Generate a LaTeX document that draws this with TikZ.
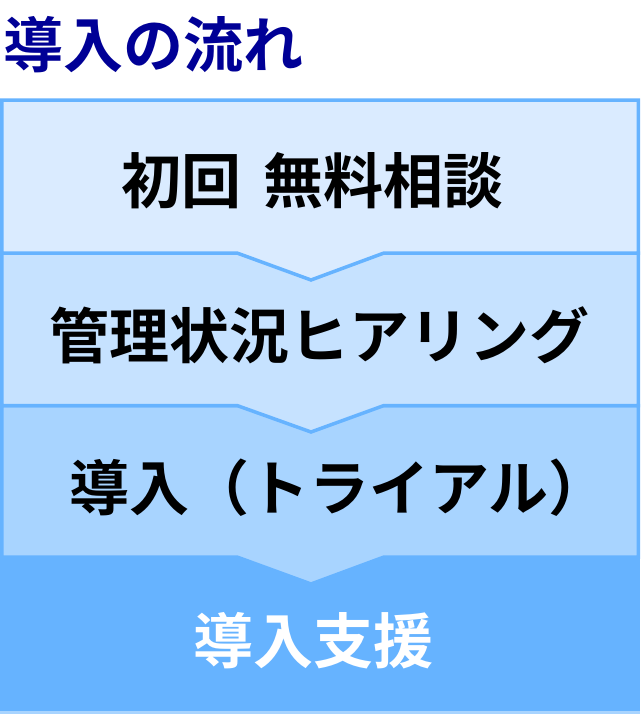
\documentclass[tikz,border=0pt]{standalone}
\usepackage{fontspec}
\setmainfont{Noto Sans CJK JP}[BoldFont={* Bold}]
\definecolor{edge}{RGB}{102,179,255}
\definecolor{fillA}{RGB}{218,235,255}
\definecolor{fillB}{RGB}{198,226,255}
\definecolor{fillC}{RGB}{168,212,255}
\definecolor{fillD}{RGB}{102,179,255}
\definecolor{navy}{RGB}{0,0,150}
\tikzset{
  stage/.style={draw=edge, line width=3.5pt, line join=miter},
  label/.style={anchor=base, inner sep=0pt, font=\fontsize{60}{60}\selectfont\bfseries},
}
\begin{document}
\begin{tikzpicture}[x=1pt,y=-1pt]
\useasboundingbox (0,0) rectangle (640,714);
\fill[white] (0,0) rectangle (640,714);
% stage 4 (bottom)
\fill[fillC] (0,709) rectangle (640,714);
\fill[fillD] (0,555) rectangle (640,711);
% stage 3
\path[stage, fill=fillC] (1.75,405.5) -- (638.25,405.5) -- (638.25,557) -- (384,557) -- (311,584) -- (237,557) -- (1.75,557) -- cycle;
% stage 2
\path[stage, fill=fillB] (1.75,253) -- (638.25,253) -- (638.25,405.5) -- (384,405.5) -- (311,432) -- (237,405.5) -- (1.75,405.5) -- cycle;
% stage 1
\path[stage, fill=fillA] (1.75,100.25) -- (638.25,100.25) -- (638.25,253) -- (384,253) -- (311,280) -- (237,253) -- (1.75,253) -- cycle;
% texts
\node[label, anchor=base west, text=navy] (title) at (3,68) {導入の流れ};
\node[label] (s1) at (312.5,204) {初回\hspace{0.38em}無料相談};
\node[label] (s2) at (319,358) {管理状況ヒアリング};
\node[label] (s3) at (339,510) {導入（トライアル）};
\node[label, text=white] (s4) at (313,663) {導入支援};
\end{tikzpicture}
\end{document}
